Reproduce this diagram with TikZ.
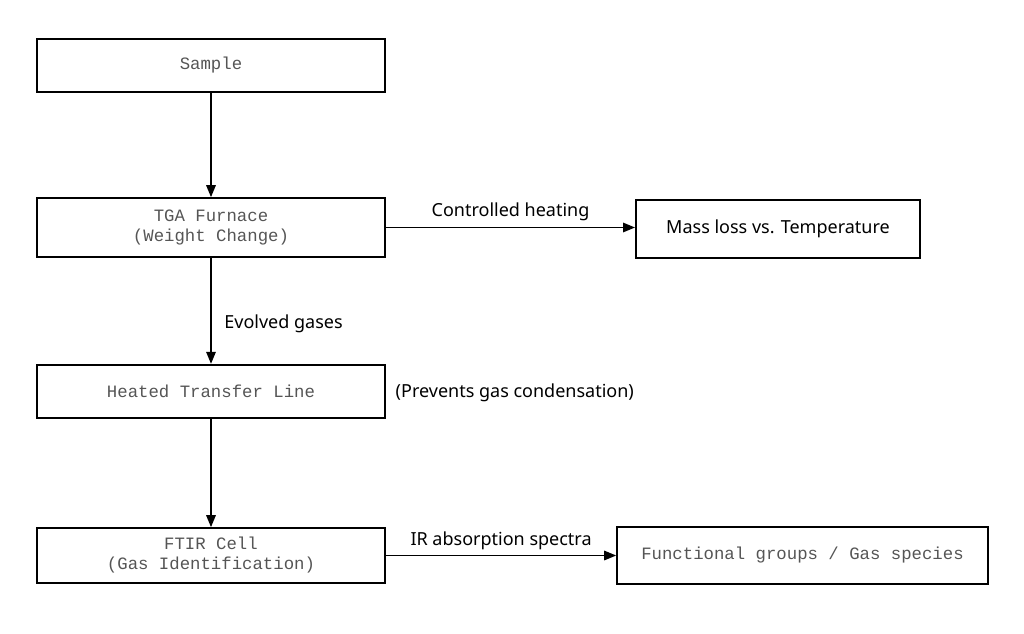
\documentclass[tikz,border=0pt]{standalone}
\usepackage{fontspec}
\setmainfont{Noto Sans}
\setmonofont{Liberation Mono}
\usetikzlibrary{arrows.meta}
\definecolor{boxtxt}{HTML}{555555}
\begin{document}
\begin{tikzpicture}[x=0.75pt,y=-0.75pt]
\tikzstyle{stage}=[draw, line width=1.4pt, shape=rectangle, minimum width=261pt, minimum height=40pt, align=center, font=\ttfamily\fontsize{13}{15}\selectfont, text=boxtxt]
\tikzstyle{result}=[draw, line width=1.4pt, shape=rectangle, minimum height=43pt, align=center]
\tikzstyle{flow}=[-{Triangle[length=9pt,width=7pt]}, line width=1.4pt]
\tikzstyle{lbl}=[font=\fontsize{13.5}{16}\selectfont]
\useasboundingbox (0,0) rectangle (1024,634);
\node[stage](sample) at (211,65.5){Sample};
\node[stage, minimum height=44pt](tga) at (211,227.5){TGA Furnace\\(Weight Change)};
\node[stage](line) at (211,391.5){Heated Transfer Line};
\node[stage, minimum height=41pt](ftir) at (211,555.5){FTIR Cell\\(Gas Identification)};
%
\node[result, minimum width=213pt, font=\fontsize{13.5}{16}\selectfont](mass) at (778,229){Mass loss vs. Temperature};
\node[result, minimum width=278pt, font=\ttfamily\fontsize{13}{15}\selectfont, text=boxtxt](groups) at (802.5,555.5){Functional groups / Gas species};
%
\draw[flow] (sample) -- (tga);
\draw[flow] (tga) -- node[lbl, right, xshift=6pt, pos=0.62]{Evolved gases} (line);
\draw[flow] (line) -- (ftir);
\draw[flow] (tga.east) -- node[lbl, above, yshift=1pt]{Controlled heating} (tga.east -| mass.west);
\draw[flow] (ftir.east) -- node[lbl, above]{IR absorption spectra} (ftir.east -| groups.west);
%
\node[lbl, anchor=west](note) at (391,393){(Prevents gas condensation)};
\end{tikzpicture}
\end{document}
